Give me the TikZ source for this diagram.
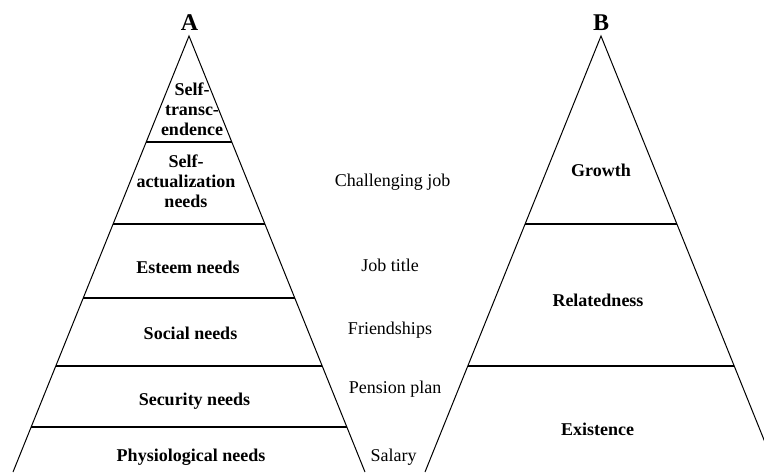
\documentclass[tikz,border=0pt]{standalone}
\usepackage{fontspec}
\setmainfont{Liberation Serif}
\usetikzlibrary{calc,%
                positioning}

\begin{document}
\begin{tikzpicture}[x=1pt, y=-1pt,
side/.style={draw=black, line width=1pt},
%
level/.style={draw=black, line width=2pt},
%
need/.style={font=\fontsize{18}{20}\selectfont\bfseries, align=center,
inner sep=0pt, anchor=base},
%
perk/.style={font=\fontsize{18}{20}\selectfont, inner sep=0pt, anchor=base},
%
title/.style={font=\fontsize{24}{24}\selectfont\bfseries, inner sep=0pt,
anchor=base}]

\useasboundingbox (0,0) rectangle (764,472);
\clip (0,0) rectangle (764,472);

% pyramid A
\coordinate (Atop) at (189,36);
\coordinate (Aleft) at (13,472);
\coordinate (Aright) at (365,472);
\node[title] (A) at (189.5,30) {A};
\draw[side] (Aleft) -- (Atop) -- (Aright);
\foreach \t in {0.243,0.431,0.601,0.757,0.897}
  \draw[level] ($(Atop)!\t!(Aleft)$) -- ($(Atop)!\t!(Aright)$);

\node[need, anchor=center] (transc) at (192,109) {Self-\\transc-\\endence};
\node[need, anchor=center] (actual) at (186,181) {Self-\\actualization\\needs};
\node[need] (esteem) at (188,273) {Esteem needs};
\node[need] (social) at (190.5,339) {Social needs};
\node[need] (security) at (194.5,405) {Security needs};
\node[need] (physio) at (191,461) {Physiological needs};

% examples
\node[perk] (job) at (392.5,186) {Challenging job};
\node[perk] (jobtitle) at (390,271) {Job title};
\node[perk] (friends) at (390,334) {Friendships};
\node[perk] (pension) at (395,393) {Pension plan};
\node[perk] (salary) at (393.5,461) {Salary};

% pyramid B
\coordinate (Btop) at (601,36);
\coordinate (Bleft) at (425,472);
\coordinate (Bright) at (777,472);
\node[title] (B) at (601,30) {B};
\draw[side] (Bleft) -- (Btop) -- (Bright);
\foreach \t in {0.431,0.757}
  \draw[level] ($(Btop)!\t!(Bleft)$) -- ($(Btop)!\t!(Bright)$);

\node[need] (growth) at (601,176) {Growth};
\node[need] (related) at (598,306) {Relatedness};
\node[need] (exist) at (597.5,435) {Existence};

\end{tikzpicture}
\end{document}
